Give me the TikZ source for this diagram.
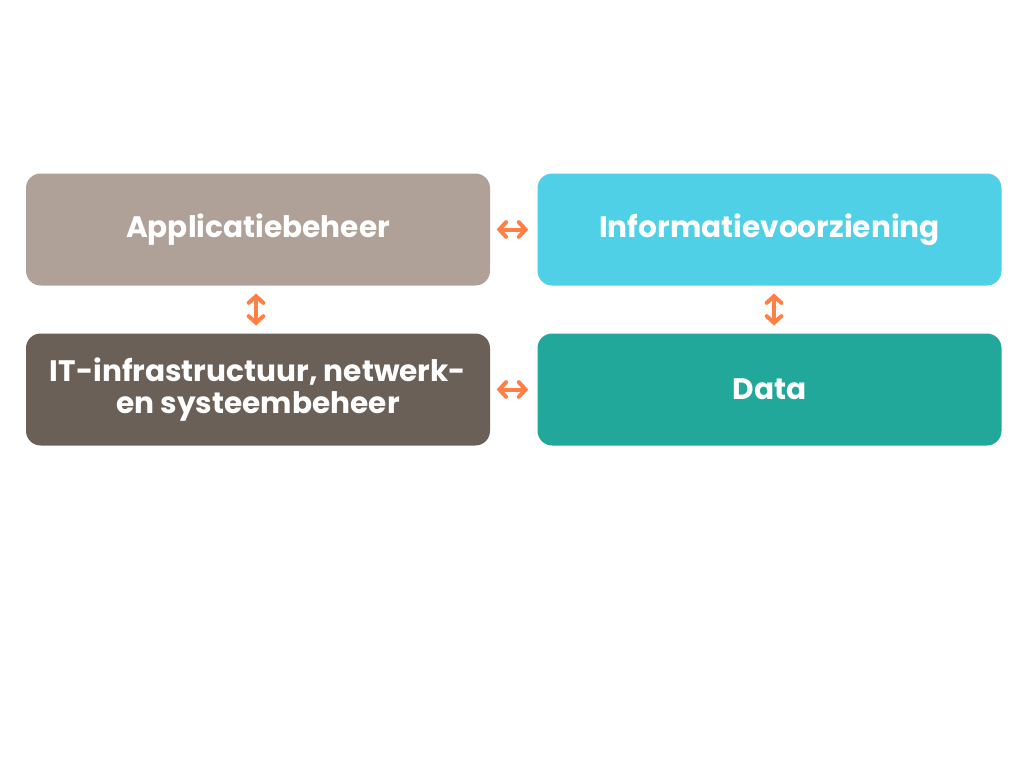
\documentclass[tikz,border=0pt]{standalone}
\usepackage{fontspec}
\setmainfont{Poppins}
\usetikzlibrary{arrows.meta}

\definecolor{appcol}{HTML}{B0A198}
\definecolor{infocol}{HTML}{4FD0E6}
\definecolor{itcol}{HTML}{6B6058}
\definecolor{datacol}{HTML}{21A89A}
\definecolor{arrowcol}{HTML}{FF7F45}

\tikzset{
  block/.style={rounded corners=11pt, minimum width=348pt, minimum height=84pt,
    inner sep=0pt, outer sep=0pt, text=white, align=center,
    font=\fontsize{22.2}{24.5}\selectfont\bfseries},
  link/.style={draw=arrowcol, line width=3pt, line cap=round,
    {Straight Barb[length=5pt,width=11pt,line cap=round]}-{Straight Barb[length=5pt,width=11pt,line cap=round]}}
}

\begin{document}
\begin{tikzpicture}[x=0.75pt,y=-0.75pt]
\path[fill=white] (0,0) rectangle (1024,768);
\useasboundingbox (0,0) rectangle (1024,768);

\node[block, fill=appcol] (app) at (258,229.5) {Applicatiebeheer};
\node[block, fill=infocol] (info) at (769.5,229.5) {Informatievoorziening};
\node[block, fill=itcol] (it) at (258,389.5) {IT-infrastructuur, netwerk-\\en systeembeheer};
\node[block, fill=datacol] (data) at (769.5,389.5) {Data};

\draw[link, shorten <=5pt, shorten >=7pt] (app.east) -- (info.west);
\draw[link, shorten <=5pt, shorten >=7pt] (it.east) -- (data.west);
\draw[link, shorten <=6pt, shorten >=6pt] ([xshift=-1.5pt]app.south) -- ([xshift=-1.5pt]it.north);
\draw[link, shorten <=6pt, shorten >=6pt] ([xshift=3.4pt]info.south) -- ([xshift=3.4pt]data.north);
\end{tikzpicture}
\end{document}
